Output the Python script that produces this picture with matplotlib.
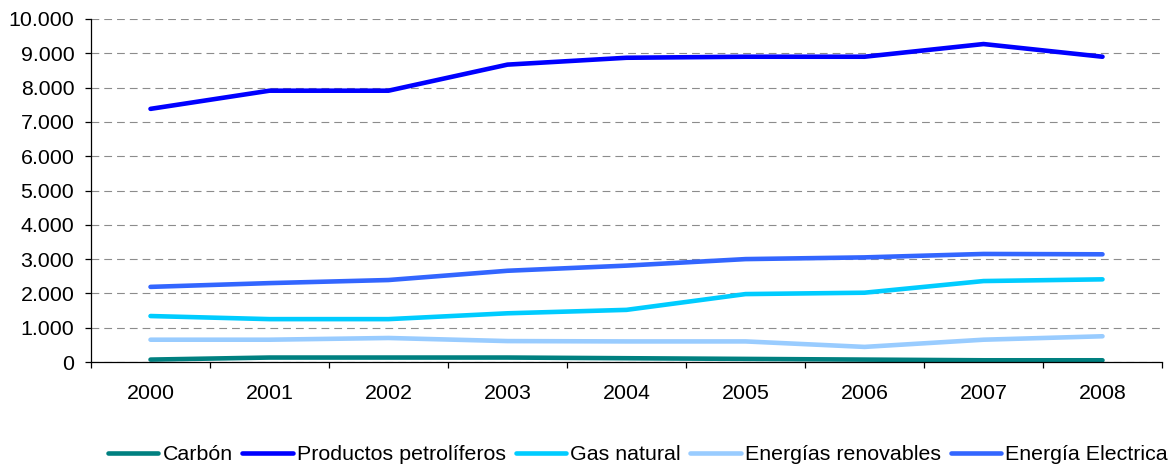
import matplotlib
matplotlib.use("Agg")
import matplotlib.pyplot as plt
from matplotlib.ticker import FuncFormatter, FixedLocator

years = ["2000", "2001", "2002", "2003", "2004", "2005", "2006", "2007", "2008"]
carbon = [70, 130, 130, 130, 110, 90, 70, 50, 50]
petroliferos = [7380, 7910, 7910, 8670, 8870, 8900, 8900, 9270, 8900]
gas_natural = [1340, 1250, 1250, 1420, 1520, 1980, 2020, 2360, 2410]
renovables = [650, 650, 700, 610, 600, 600, 440, 650, 750]
electrica = [2190, 2300, 2390, 2660, 2810, 3000, 3050, 3150, 3140]

series = [
    ("Carbón", carbon, "#008080"),
    ("Productos petrolíferos", petroliferos, "#0000FF"),
    ("Gas natural", gas_natural, "#00CCFF"),
    ("Energías renovables", renovables, "#99CCFF"),
    ("Energía Electrica", electrica, "#3366FF"),
]

plt.rcParams['font.family'] = ['Liberation Sans', 'DejaVu Sans']
W, H = 1176, 468
fig = plt.figure(figsize=(W / 100, H / 100), dpi=100)
ax = fig.add_axes([91 / W, 1 - 362 / H, (1162 - 91) / W, (362 - 19) / H])

x = list(range(len(years)))
for name, vals, col in series:
    ax.plot(x, vals, color=col, lw=3.3, label=name, solid_capstyle='round', solid_joinstyle='round')

ax.set_xlim(-0.5, len(years) - 0.5)
ax.set_ylim(0, 10000)
ax.set_yticks(range(0, 10001, 1000))
ax.yaxis.set_major_formatter(FuncFormatter(lambda v, p: f"{int(v):,}".replace(",", ".")))
ax.set_xticks(x)
ax.set_xticklabels(years)
ax.xaxis.set_minor_locator(FixedLocator([i - 0.5 for i in range(len(years) + 1)]))

ax.grid(axis='y', color='#8c8c8c', linestyle=(0, (7, 4.5)), linewidth=0.8)
ax.set_axisbelow(True)
for s in ['top', 'right']:
    ax.spines[s].set_visible(False)
for s in ['left', 'bottom']:
    ax.spines[s].set_color('#000000')
    ax.spines[s].set_linewidth(0.9)

fs = 15.4
ax.tick_params(axis='y', labelsize=fs, length=4, width=0.9, pad=8, colors='#000000')
ax.tick_params(axis='x', which='major', labelsize=fs, length=0, pad=16, colors='#000000')
ax.tick_params(axis='x', which='minor', length=4, width=0.9, colors='#000000')

fig.legend(loc='center', bbox_to_anchor=(638 / W, 1 - 455 / H), ncol=5, frameon=False,
           fontsize=fs, handlelength=2.35, handletextpad=0.2, columnspacing=0.45,
           borderaxespad=0, borderpad=0)

fig.savefig("out.png", dpi=100)
